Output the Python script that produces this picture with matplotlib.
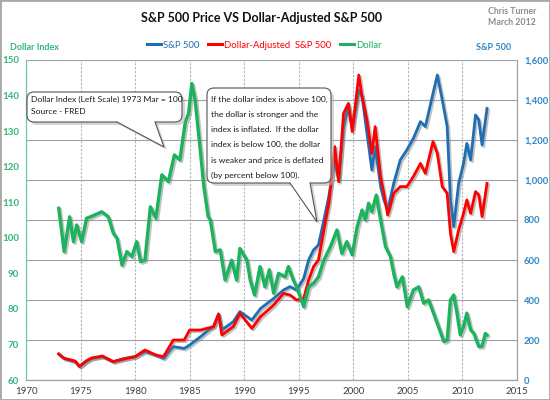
import matplotlib
matplotlib.use("Agg")
import matplotlib.pyplot as plt
import matplotlib.patheffects as pe
from matplotlib.patches import FancyBboxPatch, Polygon, Rectangle
from matplotlib.lines import Line2D

plt.rcParams['font.family'] = ['Lato', 'DejaVu Sans']

# S&P 500 and dollar-adjusted S&P 500 (right scale)
sp_years = [1973.0, 1973.5, 1974.0, 1974.5, 1974.9, 1975.5, 1976.0, 1977.0, 1978.0, 1979.0,
            1980.0, 1980.9, 1981.9, 1982.6, 1983.5, 1984.5, 1985.0, 1986.0, 1987.2, 1987.65,
            1987.95, 1989.0, 1989.6, 1990.7, 1991.5, 1992.7, 1993.6, 1994.2, 1994.8, 1995.45,
            1995.9, 1996.35, 1996.8, 1997.3, 1997.75, 1998.3, 1998.65, 1999.1, 1999.55, 1999.9,
            2000.5, 2000.8, 2001.25, 2001.7, 2002.0, 2002.5, 2002.8, 2003.15, 2003.7, 2004.3,
            2004.9, 2005.5, 2006.15, 2006.6, 2007.3, 2007.7, 2008.15, 2008.6, 2008.9, 2009.2,
            2009.65, 2010.1, 2010.4, 2010.75, 2011.2, 2011.5, 2011.8, 2012.25]
sp500 = [130, 108, 100, 92, 67, 92, 108, 117, 92, 108,
         117, 142, 125, 108, 167, 158, 175, 217, 270, 330,
         250, 292, 342, 300, 358, 408, 450, 467, 450, 508,
         600, 650, 675, 800, 917, 1100, 1000, 1267, 1367, 1258,
         1450, 1417, 1233, 1050, 1167, 967, 900, 850, 983, 1100,
         1150, 1208, 1292, 1267, 1433, 1525, 1400, 1267, 900, 767,
         983, 1083, 1183, 1100, 1325, 1300, 1175, 1358]
sp500_adj = [130, 108, 102, 95, 68, 95, 110, 120, 92, 105,
             117, 150, 125, 117, 200, 200, 250, 250, 267, 330,
             225, 267, 333, 258, 317, 375, 433, 425, 400, 408,
             500, 567, 600, 750, 883, 1167, 992, 1333, 1383, 1242,
             1525, 1417, 1300, 1133, 1267, 1017, 933, 825, 933, 967,
             967, 1017, 1083, 1033, 1192, 1133, 967, 933, 733, 642,
             750, 833, 900, 833, 942, 925, 817, 983]

# dollar index (left scale)
usd_years = [1973.0, 1973.5, 1974.0, 1974.35, 1974.65, 1975.1, 1975.55, 1975.9, 1976.95, 1977.55,
             1978.0, 1978.35, 1978.8, 1979.25, 1979.7, 1980.15, 1980.5, 1980.9, 1981.4, 1981.9,
             1982.45, 1983.05, 1983.6, 1984.1, 1984.6, 1984.9, 1985.2, 1985.5, 1986.0, 1986.3,
             1986.7, 1986.9, 1987.35, 1987.8, 1988.25, 1988.85, 1989.3, 1989.6, 1990.25, 1990.55,
             1990.95, 1991.45, 1991.9, 1992.3, 1992.7, 1993.15, 1993.75, 1994.05, 1994.5, 1994.8,
             1995.45, 1995.9, 1996.35, 1996.8, 1997.3, 1997.9, 1998.5, 1998.95, 1999.4, 1999.9,
             2000.35, 2000.8, 2001.1, 2001.4, 2001.7, 2002.1, 2002.5, 2002.95, 2003.4, 2003.7,
             2004.0, 2004.5, 2004.95, 2005.5, 2006.0, 2006.45, 2006.9, 2007.35, 2007.8, 2008.3,
             2008.6, 2008.9, 2009.2, 2009.5, 2009.8, 2010.1, 2010.4, 2010.75, 2011.05, 2011.5,
             2011.8, 2012.1, 2012.25]
usd_index = [108.3, 96.1, 105.9, 98.9, 103.6, 98.9, 105.5, 105.9, 107.3, 105.9,
             101.3, 99.8, 92.3, 96.1, 94.7, 98.9, 93.3, 93.7, 108.7, 105.5,
             117.7, 115.8, 123.3, 121.9, 132.6, 135.0, 143.4, 138.7, 123.8, 114.4,
             105.9, 105.0, 96.1, 96.6, 88.1, 93.7, 88.1, 97.0, 93.7, 88.1,
             83.9, 91.9, 86.2, 91.0, 84.4, 90.0, 89.0, 91.9, 88.1, 86.2,
             80.6, 86.2, 87.2, 89.0, 93.7, 97.5, 102.2, 95.6, 98.9, 95.2,
             103.1, 107.8, 105.0, 109.7, 107.3, 112.0, 105.0, 97.5, 94.7, 90.0,
             86.2, 89.0, 80.6, 85.3, 86.2, 81.6, 82.5, 78.8, 75.0, 70.8,
             71.2, 82.5, 83.9, 78.8, 72.7, 75.0, 78.8, 74.1, 73.1, 69.4,
             69.5, 73.1, 72.7]

year_ticks = [1970, 1975, 1980, 1985, 1990, 1995, 2000, 2005, 2010, 2015]
usd_ticks = [60, 70, 80, 90, 100, 110, 120, 130, 140, 150]
sp_ticks = [0, 200, 400, 600, 800, 1000, 1200, 1400, 1600]

BLUE = '#1f6eb4'
RED = '#ff0000'
GREEN = '#1db25d'
GREEN_TXT = '#34b77a'
BLUE_TXT = '#2f86c6'

fig = plt.figure(figsize=(5.5, 4), dpi=100)
fig.patch.set_facecolor('white')

ax = fig.add_axes([26 / 550, 20 / 400, 491 / 550, 320 / 400])
ax2 = ax.twinx()

shadow = [pe.SimpleLineShadow(offset=(1.2, -1.2), shadow_color='#777777', alpha=0.45), pe.Normal()]

# base axes: S&P scale (shown on the right) with the grid
ax.plot(sp_years, sp500, color=BLUE, lw=2.0, path_effects=shadow, zorder=3)
ax.plot(sp_years, sp500_adj, color=RED, lw=2.0, path_effects=shadow, zorder=4)
ax.set_ylim(0, 1600)
ax.set_yticks(sp_ticks)
ax.set_yticklabels(['{:,}'.format(v) for v in sp_ticks])
ax.yaxis.tick_right()
ax.set_xlim(1970, 2015)
ax.set_xticks(year_ticks)
ax.grid(axis='y', color='#9aa2ac', lw=0.8)
ax.grid(axis='x', color='#b0b4b8', lw=0.8, ls=(0, (2, 1.5)))
ax.set_axisbelow(True)
ax.tick_params(axis='y', length=0, pad=5, labelcolor=BLUE_TXT, labelsize=6.8)
ax.tick_params(axis='x', length=0, pad=5, labelcolor='#404040', labelsize=7)
for lab in ax.get_yticklabels():
    lab.set_fontweight('bold')

# twin axes: dollar index on the left
ax2.plot(usd_years, usd_index, color=GREEN, lw=2.4, path_effects=shadow, zorder=3)
ax2.set_ylim(60, 150)
ax2.set_yticks(usd_ticks)
ax2.yaxis.tick_left()
ax2.tick_params(axis='y', length=0, pad=5, labelcolor=GREEN_TXT, labelsize=7)
for lab in ax2.get_yticklabels():
    lab.set_fontweight('bold')

for a in (ax, ax2):
    a.spines['top'].set_visible(False)
    a.spines['right'].set_color('#a0a0a0')
    a.spines['bottom'].set_color('#a0a0a0')
    a.spines['left'].set_color('#6cc9a0')

# titles and axis names
fig.text(262 / 550, 1 - 18 / 400, 'S&P 500 Price VS Dollar-Adjusted S&P 500', ha='center', va='center',
         fontsize=9, fontweight='bold', color='#111111')
fig.text(512 / 550, 1 - 17 / 400, 'Chris Turner\nMarch 2012', ha='center', va='center', fontsize=6.3,
         fontweight='bold', color='#8c8c8c', linespacing=1.3)
fig.text(10 / 550, 1 - 47 / 400, 'Dollar Index', ha='left', va='center', fontsize=6.5, fontweight='bold',
         color=GREEN_TXT)
fig.text(494 / 550, 1 - 47 / 400, 'S&P 500', ha='center', va='center', fontsize=6.5, fontweight='bold',
         color=BLUE_TXT)

handles = [Line2D([], [], color=BLUE, lw=2.2), Line2D([], [], color=RED, lw=2.2),
           Line2D([], [], color=GREEN, lw=2.2)]
fig.legend(handles, ['S&P 500', 'Dollar-Adjusted  S&P 500', 'Dollar'], loc='center',
           bbox_to_anchor=(264 / 550, 1 - 45 / 400), ncol=3, frameon=False, labelcolor='linecolor',
           handlelength=1.5, columnspacing=0.9, handletextpad=0.2, fontsize=6.8)

# callouts, drawn on a pixel-based overlay
ov = fig.add_axes([0, 0, 1, 1])
ov.set_xlim(0, 550)
ov.set_ylim(400, 0)
ov.axis('off')


def callout(x0, y0, x1, y1, base0, base1, tip, lines, text_y, dy):
    for off, fc, ec, z in ((3, '#b8b8b8', 'none', 5), (0, 'white', '#555555', 6)):
        box = FancyBboxPatch((x0 + off, y0 + off), x1 - x0, y1 - y0,
                             boxstyle='round,pad=0,rounding_size=7', fc=fc, ec=ec, lw=0.8, zorder=z,
                             alpha=0.6 if off else 1)
        ov.add_patch(box)
        tail = Polygon([(base0 + off, y1 + off - 1.5), (base0 + off, y1 + off),
                        (tip[0] + off, tip[1] + off), (base1 + off, y1 + off),
                        (base1 + off, y1 + off - 1.5)], closed=True, fc=fc, ec='none', zorder=z,
                       alpha=0.6 if off else 1)
        ov.add_patch(tail)
    ov.plot([base0, tip[0], base1], [y1, tip[1], y1], color='#555555', lw=0.8, zorder=7)
    for i, t in enumerate(lines):
        ov.text(x0 + 4, text_y + i * dy, t, fontsize=6.1, color='#1a1a1a', va='center', ha='left',
                zorder=8)


callout(27, 92, 182, 122, 117, 155, (164, 147),
        ['Dollar Index (Left Scale) 1973 Mar = 100', 'Source - FRED'], 99, 12)
callout(207, 88, 331, 183, 290, 310, (317, 222),
        ['If the dollar index is above 100,', 'the dollar is stronger and the',
         'index is inflated.  If the dollar', 'index is below 100, the dollar',
         'is weaker and price is deflated', '(by percent below 100).'], 99, 15.3)

fig.patches.append(Rectangle((0, 0), 1, 1, transform=fig.transFigure, fill=False,
                             ec='#a8a8a8', lw=2, zorder=10))

fig.savefig('out.png', dpi=100)
